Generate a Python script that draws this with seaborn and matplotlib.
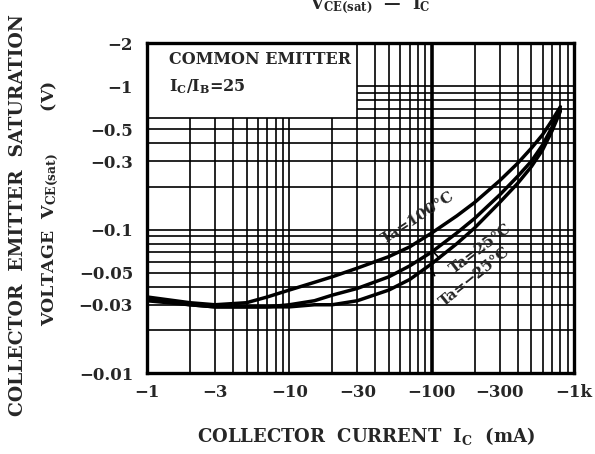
import numpy as np
import pandas as pd
import matplotlib
matplotlib.use("Agg")
import matplotlib.pyplot as plt
from matplotlib.ticker import FixedLocator, NullFormatter, NullLocator
import seaborn as sns

# Values (collector current in mA, Vce(sat) in V, magnitudes)
ic_ma = [1, 2, 3, 5, 7, 10, 15, 20, 30, 50, 70, 100, 150, 200, 300, 400, 500, 600, 700, 800]
vce_100 = [0.034, 0.031, 0.030, 0.031, 0.034, 0.038, 0.043, 0.047, 0.054, 0.065, 0.076, 0.095,
           0.125, 0.155, 0.22, 0.29, 0.37, 0.46, 0.58, 0.72]
vce_25 = [0.033, 0.030, 0.029, 0.029, 0.029, 0.030, 0.032, 0.035, 0.039, 0.047, 0.056, 0.070,
          0.095, 0.12, 0.175, 0.235, 0.30, 0.39, 0.52, 0.69]
vce_m25 = [0.032, 0.030, 0.029, 0.029, 0.029, 0.029, 0.030, 0.030, 0.032, 0.038, 0.045, 0.058,
           0.080, 0.103, 0.155, 0.21, 0.275, 0.36, 0.49, 0.67]

x_ticks = [1, 3, 10, 30, 100, 300, 1000]
x_tick_labels = ["\u22121", "\u22123", "\u221210", "\u221230", "\u2212100", "\u2212300", "\u22121k"]
y_ticks = [0.01, 0.03, 0.05, 0.1, 0.3, 0.5, 1, 2]
y_tick_labels = ["\u22120.01", "\u22120.03", "\u22120.05", "\u22120.1", "\u22120.3", "\u22120.5", "\u22121", "\u22122"]

df = pd.DataFrame({
    "ic": ic_ma * 3,
    "vce": vce_100 + vce_25 + vce_m25,
    "ta": ["100"] * len(ic_ma) + ["25"] * len(ic_ma) + ["-25"] * len(ic_ma),
})

sns.set_style("white")
plt.rcParams["font.family"] = ["DejaVu Serif"]
plt.rcParams["font.weight"] = "bold"
plt.rcParams["mathtext.fontset"] = "custom"
plt.rcParams["mathtext.rm"] = "DejaVu Serif:bold"
plt.rcParams["mathtext.it"] = "DejaVu Serif:bold"
plt.rcParams["mathtext.bf"] = "DejaVu Serif:bold"

fig = plt.figure(figsize=(5.95, 4.54), dpi=100)
ax = fig.add_axes([0.247, 0.178, 0.718, 0.727])
ax.set_xscale("log")
ax.set_yscale("log")
ax.set_xlim(1, 1000)
ax.set_ylim(0.01, 2)

# grid (cut out where the note box sits: x < 30, y > 0.6)
xg = [round(m * d, 3) for d in (1, 10, 100) for m in range(2, 10)] + [10, 100]
yg = [round(m * d, 3) for d in (0.01, 0.1) for m in range(2, 10)] + [0.1, 1]
for x in xg:
    top = 2 if x >= 30 else 0.6
    ax.vlines(x, 0.01, top, color="black", lw=1.2, zorder=1)
for y in yg:
    left = 30 if y > 0.6 else 1
    ax.hlines(y, left, 1000, color="black", lw=1.2, zorder=1)
ax.vlines(100, 0.01, 2, color="black", lw=2.6, zorder=1)

sns.lineplot(data=df, x="ic", y="vce", hue="ta", palette=["black"] * 3,
             lw=2.5, legend=False, ax=ax, zorder=3)

for s in ax.spines.values():
    s.set_linewidth(2.4)
    s.set_color("black")

ax.xaxis.set_major_locator(FixedLocator(x_ticks))
ax.set_xticklabels(x_tick_labels)
ax.xaxis.set_minor_locator(NullLocator())
ax.yaxis.set_major_locator(FixedLocator(y_ticks))
ax.set_yticklabels(y_tick_labels)
ax.yaxis.set_minor_locator(FixedLocator([0.7, 0.8, 0.9]))
ax.yaxis.set_minor_formatter(NullFormatter())
ax.tick_params(axis="x", length=0, pad=8, labelsize=12)
ax.tick_params(axis="y", which="major", direction="in", length=9, width=1.2, pad=10, labelsize=12)
ax.tick_params(axis="y", which="minor", direction="in", length=9, width=1.2)
ax.set_xlabel("")
ax.set_ylabel("")

ax.text(1.42, 1.55, "COMMON EMITTER", fontsize=11.5, fontweight="bold", va="center")
ax.text(1.42, 1.0, r"$\mathrm{I_C/I_B}$=25", fontsize=11.5, fontweight="bold", va="center")

# temperature labels with short leaders
ax.text(80, 0.122, "Ta=100\u00b0C", fontsize=11, fontweight="bold", rotation=33,
        ha="center", va="center", zorder=4)
ax.text(222, 0.074, "Ta=25\u00b0C", fontsize=11, fontweight="bold", rotation=37,
        ha="center", va="center", zorder=4)
ax.text(200, 0.047, "Ta=\u221225\u00b0C", fontsize=11, fontweight="bold", rotation=39,
        ha="center", va="center", zorder=4)
ax.annotate("", xy=(100, 0.072), xytext=(117, 0.061),
            arrowprops=dict(arrowstyle="-", lw=1.2, color="black"))
ax.annotate("", xy=(96, 0.056), xytext=(107, 0.046),
            arrowprops=dict(arrowstyle="-", lw=1.2, color="black"))

fig.text(0.615, 1 - 436 / 454, r"COLLECTOR  CURRENT  $\mathrm{I_C}$  (mA)",
         fontsize=13, fontweight="bold", ha="center", va="center")
fig.text(18 / 595, 1 - 215 / 454, "COLLECTOR  EMITTER  SATURATION",
         fontsize=13.5, fontweight="bold", rotation=90, ha="center", va="center")
fig.text(50 / 595, 1 - 204 / 454, r"VOLTAGE  $\mathrm{V_{CE(sat)}}$       (V)",
         fontsize=12.5, fontweight="bold", rotation=90, ha="center", va="center")
fig.text(370 / 595, 1 - 6 / 454, r"$\mathrm{V_{CE(sat)}}$  " + "\u2014" + r"  $\mathrm{I_C}$",
         fontsize=12, fontweight="bold", ha="center", va="center")

fig.savefig("out.png", dpi=100, facecolor="white")
